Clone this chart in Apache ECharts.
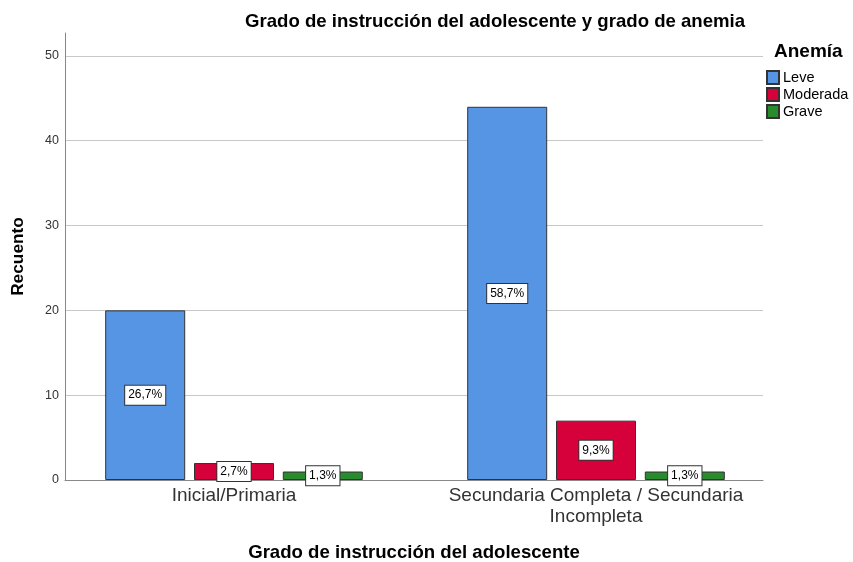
<!DOCTYPE html>
<html>
<head>
<meta charset="utf-8">
<script src="https://cdn.jsdelivr.net/npm/echarts@6/dist/echarts.min.js"></script>
<style>
html, body { margin: 0; padding: 0; background: #fff; }
#chart { width: 853px; height: 562px; }
</style>
</head>
<body>
<div id="chart"></div>
<script>
// datos (recuento)
var categorias = ['Inicial/Primaria', 'Secundaria Completa / Secundaria\nIncompleta'];
var nombresSerie = ['Leve', 'Moderada', 'Grave'];
var leve = [20, 44];
var moderada = [2, 7];
var grave = [1, 1];
var colores = ['#5694e4', '#d6003a', '#2a8a2e'];
var ejeY = { min: 0, max: 52.7, interval: 10 };

var fuente = 'Liberation Sans, Arial, sans-serif';

function initChart() {
    var chart = echarts.init(document.getElementById('chart'));
    var total = 0;
    var listas = [leve, moderada, grave];
    for (var i = 0; i < listas.length; i++) {
        for (var j = 0; j < listas[i].length; j++) {
            total += listas[i][j];
        }
    }

    var series = [];
    for (var k = 0; k < listas.length; k++) {
        series.push({
            name: nombresSerie[k],
            type: 'bar',
            xAxisIndex: 1,
            yAxisIndex: 1,
            barWidth: 80,
            barGap: '11%',
            data: listas[k],
            itemStyle: { color: colores[k], borderColor: '#333', borderWidth: 1 },
            label: {
                show: true,
                position: 'inside',
                color: '#000',
                fontFamily: fuente,
                fontSize: 12,
                backgroundColor: '#fff',
                borderColor: '#333',
                borderWidth: 1,
                padding: [4, 3, 3, 3],
                formatter: function (p) {
                    return (p.value / total * 100).toFixed(1).replace('.', ',') + '%';
                }
            }
        });
    }

    var option = {
        animation: false,
        backgroundColor: '#fff',
        title: [{
            text: 'Grado de instrucción del adolescente y grado de anemia',
            left: 240,
            top: 7,
            textStyle: { fontFamily: fuente, fontSize: 18.6, fontWeight: 'bold', color: '#000' }
        }, {
            text: 'Anemía',
            left: 774,
            top: 42,
            padding: 0,
            textStyle: { fontFamily: fuente, fontSize: 19, fontWeight: 'bold', color: '#000' }
        }],
        legend: {
            data: nombresSerie,
            orient: 'vertical',
            left: 766,
            top: 70,
            padding: 0,
            itemWidth: 12,
            itemHeight: 13,
            itemGap: 2,
            icon: 'rect',
            textStyle: { fontFamily: fuente, fontSize: 14.5, color: '#000', padding: [0, 0, 0, -1] }
        },
        grid: [
            { left: 65, right: 90, top: 33, bottom: 82, outerBoundsMode: 'none', containLabel: false },
            { left: 53, right: 76, top: 33, bottom: 82, outerBoundsMode: 'none', containLabel: false }
        ],
        xAxis: [{
            type: 'category',
            gridIndex: 0,
            data: [''],
            axisLine: { lineStyle: { color: '#888', width: 1 } },
            axisTick: { show: false },
            axisLabel: { show: false },
            name: 'Grado de instrucción del adolescente',
            nameLocation: 'middle',
            nameGap: 63,
            nameTextStyle: { fontFamily: fuente, fontSize: 18.6, fontWeight: 'bold', color: '#000' }
        }, {
            type: 'category',
            gridIndex: 1,
            data: categorias,
            axisLine: { show: false },
            axisTick: { show: false },
            axisLabel: {
                margin: 5,
                fontFamily: fuente,
                fontSize: 19,
                lineHeight: 21,
                color: '#333',
                interval: 0
            }
        }],
        yAxis: [{
            type: 'value',
            gridIndex: 0,
            min: ejeY.min,
            max: ejeY.max,
            interval: ejeY.interval,
            axisLine: { show: true, lineStyle: { color: '#888', width: 1 } },
            axisTick: { show: false },
            axisLabel: {
                margin: 6,
                showMaxLabel: false,
                fontFamily: fuente,
                fontSize: 12.5,
                color: '#333',
                formatter: function (v) { return v % 10 === 0 ? v : ''; }
            },
            splitLine: { show: true, showMaxLine: false, lineStyle: { color: '#c8c8c8', width: 1 } },
            name: 'Recuento',
            nameLocation: 'middle',
            nameGap: 38,
            nameTextStyle: { fontFamily: fuente, fontSize: 17.3, fontWeight: 'bold', color: '#000' }
        }, {
            type: 'value',
            gridIndex: 1,
            min: ejeY.min,
            max: ejeY.max,
            show: false,
            splitLine: { show: false }
        }],
        series: series
    };
    chart.setOption(option);
}

initChart();
</script>
</body>
</html>
